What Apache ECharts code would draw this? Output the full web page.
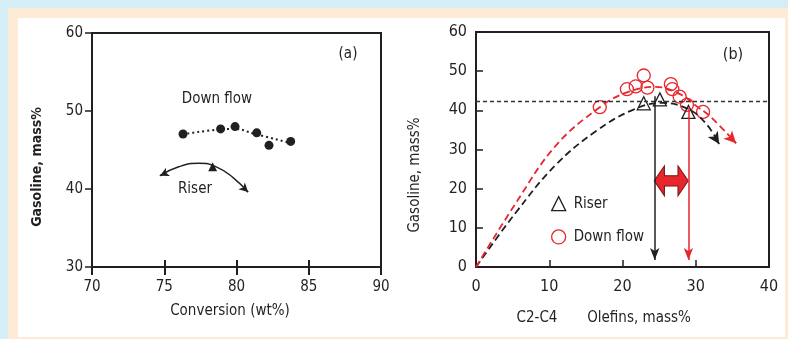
<!DOCTYPE html>
<html>
<head>
<meta charset="utf-8">
<script src="https://cdn.jsdelivr.net/npm/echarts@6/dist/echarts.min.js"></script>
<style>
  html, body { margin: 0; padding: 0; }
  body { width: 788px; height: 339px; background: #d5edf4; position: relative; overflow: hidden; }
  #cream { position: absolute; left: 8px; top: 8px; width: 780px; height: 331px; background: #fdebd7; }
  #paper { position: absolute; left: 18px; top: 18px; width: 767px; height: 319px; background: #ffffff; }
  #chart { position: absolute; left: 0; top: 0; width: 788px; height: 339px; }
</style>
</head>
<body>
<div id="cream"></div>
<div id="paper"></div>
<div id="chart"></div>
<script>
// panel (a): gasoline vs conversion
const downA_x = [76.3, 78.9, 79.9, 81.4, 82.25, 83.75];
const downA_y = [47.05, 47.7, 48.0, 47.2, 45.6, 46.1];
const downFitA_x = [76.6, 78.6, 79.9, 81.2, 83.7];
const downFitA_y = [47.1, 47.6, 47.7, 47.1, 45.9];
const riserA = [78.35, 42.85];
const riserArcA_x = [74.7, 76.0, 77.4, 78.6, 79.8, 80.8];
const riserArcA_y = [41.7, 42.85, 43.3, 42.85, 41.4, 39.6];
const ticksA_x = [70, 75, 80, 85, 90];
const ticksA_y = [30, 40, 50, 60];

// panel (b): gasoline vs C2-C4 olefins
const riserB_x = [22.9, 25.1, 29.0];
const riserB_y = [41.8, 42.8, 39.6];
const downB_x = [16.9, 20.6, 21.8, 22.9, 23.4, 26.6, 26.8, 27.8, 28.8, 31.0];
const downB_y = [40.8, 45.4, 46.1, 48.9, 45.8, 46.7, 45.4, 43.5, 41.4, 39.6];
const riserCurve_x = [0, 5.4, 10.9, 16.4, 21.5, 25.5, 29.1, 31.5, 33.2];
const riserCurve_y = [0, 13.8, 26.1, 34.7, 40.2, 41.9, 40.2, 36.4, 31.4];
const downCurve_x = [0, 5.4, 10.9, 16.9, 20.5, 24.5, 28.0, 30.0, 32.0, 35.5];
const downCurve_y = [0, 16.2, 31.0, 40.8, 44.5, 46.0, 44.0, 41.2, 38.4, 31.6];
const refLevelB = 42.2;
const riserDropB = [[24.4, 43.6], [24.4, 1.8]];
const downDropB = [[29.0, 40.8], [29.0, 1.8]];
const gapArrowB = [26.65, 22.0];
const ticksB_x = [0, 10, 20, 30, 40];
const ticksB_y = [0, 10, 20, 30, 40, 50, 60];

const FONT = "'DejaVu Sans Condensed', 'Liberation Sans Narrow', 'Arial Narrow', sans-serif";
const INK = '#231f20';
const RED = '#e8262c';

const zip = (xs, ys) => xs.map((x, i) => [x, ys[i]]);

// short segment at one end of a curve, used to hang an arrowhead on it
const endArrow = (xs, ys, atStart) => {
  const n = xs.length;
  const i = atStart ? 0 : n - 1;
  const j = atStart ? 1 : n - 2;
  const ax = xs[i] - 0.15 * (xs[i] - xs[j]);
  const ay = ys[i] - 0.15 * (ys[i] - ys[j]);
  return [{ coord: [ax, ay] }, { coord: [xs[i], ys[i]] }];
};

const axisBase = (min, max, interval) => ({
  type: 'value',
  min, max, interval,
  splitLine: { show: false },
  axisLine: { show: true, onZero: false, lineStyle: { color: INK, width: 2 } },
  axisLabel: { color: INK, fontFamily: FONT, fontSize: 15 }
});

const chart = echarts.init(document.getElementById('chart'), null, { renderer: 'canvas' });

const txt = (text, x, y, size, extra, weight) => Object.assign({
  type: 'text', x, y, silent: true,
  style: { text, fill: INK, fontFamily: FONT, fontSize: size, fontWeight: weight || 'normal', align: 'center', verticalAlign: 'middle' }
}, extra || {});

chart.setOption({
  animation: false,
  backgroundColor: 'transparent',
  grid: [
    { left: 92, top: 33, width: 289, height: 234, show: true, borderColor: INK, borderWidth: 2, backgroundColor: 'transparent' },
    { left: 476, top: 32, width: 293, height: 235, show: true, borderColor: INK, borderWidth: 2, backgroundColor: 'transparent' }
  ],
  xAxis: [
    Object.assign(axisBase(ticksA_x[0], ticksA_x[ticksA_x.length - 1], 5), {
      gridIndex: 0,
      axisTick: { show: true, inside: false, length: 8, lineStyle: { color: INK, width: 2 } },
      axisLabel: { color: INK, fontFamily: FONT, fontSize: 15, margin: 13 }
    }),
    Object.assign(axisBase(ticksA_x[0], ticksA_x[ticksA_x.length - 1], 5), {
      gridIndex: 0, position: 'top', offset: -234,
      axisLine: { show: false },
      axisTick: { show: true, inside: false, length: 7, lineStyle: { color: INK, width: 2 } },
      axisLabel: { show: false }
    }),
    Object.assign(axisBase(ticksB_x[0], ticksB_x[ticksB_x.length - 1], 10), {
      gridIndex: 1,
      axisTick: { show: true, inside: true, length: 7, lineStyle: { color: INK, width: 1.5 } },
      axisLabel: { color: INK, fontFamily: FONT, fontSize: 16, margin: 12 }
    })
  ],
  yAxis: [
    Object.assign(axisBase(ticksA_y[0], ticksA_y[ticksA_y.length - 1], 10), {
      gridIndex: 0,
      axisTick: { show: true, inside: false, length: 7, lineStyle: { color: INK, width: 1.5 } },
      axisLabel: { color: INK, fontFamily: FONT, fontSize: 15, margin: 9 }
    }),
    Object.assign(axisBase(ticksB_y[0], ticksB_y[ticksB_y.length - 1], 10), {
      gridIndex: 1,
      axisTick: { show: true, inside: true, length: 7, lineStyle: { color: INK, width: 1.5 } },
      axisLabel: { color: INK, fontFamily: FONT, fontSize: 16, margin: 9 }
    })
  ],
  legend: {
    left: 546, top: 191, orient: 'vertical',
    itemWidth: 14, itemHeight: 14, itemGap: 18,
    textStyle: { color: INK, fontFamily: FONT, fontSize: 15, padding: [0, 0, 0, 3] },
    selectedMode: false,
    data: [
      { name: 'Riser', icon: 'triangle', itemStyle: { color: 'transparent', borderColor: INK, borderWidth: 1.3 } },
      { name: 'Down flow', icon: 'circle', itemStyle: { color: 'transparent', borderColor: RED, borderWidth: 1.3 } }
    ]
  },
  series: [
    // ---- panel (a)
    {
      name: 'fit a', type: 'line', xAxisIndex: 0, yAxisIndex: 0, silent: true,
      data: zip(downFitA_x, downFitA_y), smooth: 0.4, showSymbol: false,
      lineStyle: { color: INK, width: 2, type: [2, 3] }
    },
    {
      name: 'down a', type: 'scatter', xAxisIndex: 0, yAxisIndex: 0, silent: true,
      data: zip(downA_x, downA_y), symbol: 'circle', symbolSize: 9,
      itemStyle: { color: INK, opacity: 1 }
    },
    {
      name: 'riser arc a', type: 'line', xAxisIndex: 0, yAxisIndex: 0, silent: true,
      data: zip(riserArcA_x, riserArcA_y), smooth: 0.5, showSymbol: false,
      lineStyle: { color: INK, width: 1.4 },
      markLine: {
        silent: true, symbol: ['none', 'arrow'], symbolSize: [7, 9],
        label: { show: false },
        lineStyle: { color: INK, width: 1.4, type: 'solid' },
        data: [endArrow(riserArcA_x, riserArcA_y, true), endArrow(riserArcA_x, riserArcA_y, false)]
      }
    },
    {
      name: 'riser a', type: 'scatter', xAxisIndex: 0, yAxisIndex: 0, silent: true,
      data: [riserA], symbol: 'triangle', symbolSize: 9,
      itemStyle: { color: INK, opacity: 1 }
    },
    // ---- panel (b)
    {
      name: 'riser curve', type: 'line', xAxisIndex: 2, yAxisIndex: 1, silent: true,
      data: zip(riserCurve_x, riserCurve_y), smooth: 0.4, showSymbol: false,
      lineStyle: { color: INK, width: 1.8, type: [7, 4] },
      markLine: {
        silent: true, symbol: ['none', 'arrow'], symbolSize: [9, 12],
        label: { show: false },
        lineStyle: { color: INK, width: 1.8, type: 'solid' },
        data: [endArrow(riserCurve_x, riserCurve_y, false)]
      }
    },
    {
      name: 'down curve', type: 'line', xAxisIndex: 2, yAxisIndex: 1, silent: true,
      data: zip(downCurve_x, downCurve_y), smooth: 0.4, showSymbol: false,
      lineStyle: { color: RED, width: 1.8, type: [7, 4] },
      markLine: {
        silent: true, symbol: ['none', 'arrow'], symbolSize: [9, 12],
        label: { show: false },
        lineStyle: { color: RED, width: 1.8, type: 'solid' },
        data: [endArrow(downCurve_x, downCurve_y, false)]
      }
    },
    {
      name: 'guides', type: 'scatter', xAxisIndex: 2, yAxisIndex: 1, silent: true,
      data: [],
      markLine: {
        silent: true, symbol: ['none', 'none'],
        label: { show: false },
        lineStyle: { color: '#333', width: 1.3, type: [4, 3] },
        data: [
          { yAxis: refLevelB },
          [{ coord: riserDropB[0], symbol: 'none', lineStyle: { color: INK, width: 1.5, type: 'solid' } },
           { coord: riserDropB[1], symbol: 'arrow', symbolSize: [7, 12] }],
          [{ coord: downDropB[0], symbol: 'none', lineStyle: { color: RED, width: 1.5, type: 'solid' } },
           { coord: downDropB[1], symbol: 'arrow', symbolSize: [7, 12] }]
        ]
      }
    },
    {
      name: 'gap', type: 'scatter', xAxisIndex: 2, yAxisIndex: 1, silent: true,
      data: [gapArrowB],
      symbol: 'path://M0,50 L30,0 L30,33 L70,33 L70,0 L100,50 L70,100 L70,67 L30,67 L30,100 Z',
      symbolSize: [34, 30], symbolKeepAspect: false,
      itemStyle: { color: RED, borderColor: '#7a1416', borderWidth: 1, opacity: 1 }
    },
    {
      name: 'Down flow', type: 'scatter', xAxisIndex: 2, yAxisIndex: 1, silent: true,
      data: zip(downB_x, downB_y), symbol: 'circle', symbolSize: 13,
      itemStyle: { color: 'transparent', borderColor: RED, borderWidth: 1.3, opacity: 1 }
    },
    {
      name: 'Riser', type: 'scatter', xAxisIndex: 2, yAxisIndex: 1, silent: true,
      data: zip(riserB_x, riserB_y), symbol: 'triangle', symbolSize: 13,
      itemStyle: { color: 'transparent', borderColor: INK, borderWidth: 1.3, opacity: 1 }
    }
  ],
  graphic: [
    txt('(a)', 348, 54, 15),
    txt('(b)', 733, 55, 16),
    txt('Down flow', 217, 99, 15),
    txt('Riser', 195, 189, 15),
    txt('Gasoline, mass%', 37, 167, 14, { rotation: Math.PI / 2 }, 'bold'),
    txt('Conversion (wt%)', 230, 311, 15),
    txt('Gasoline, mass%', 415, 175, 15, { rotation: Math.PI / 2 }),
    txt('C2-C4', 537, 318, 15),
    txt('Olefins, mass%', 639, 318, 15)
  ]
});
</script>
</body>
</html>
